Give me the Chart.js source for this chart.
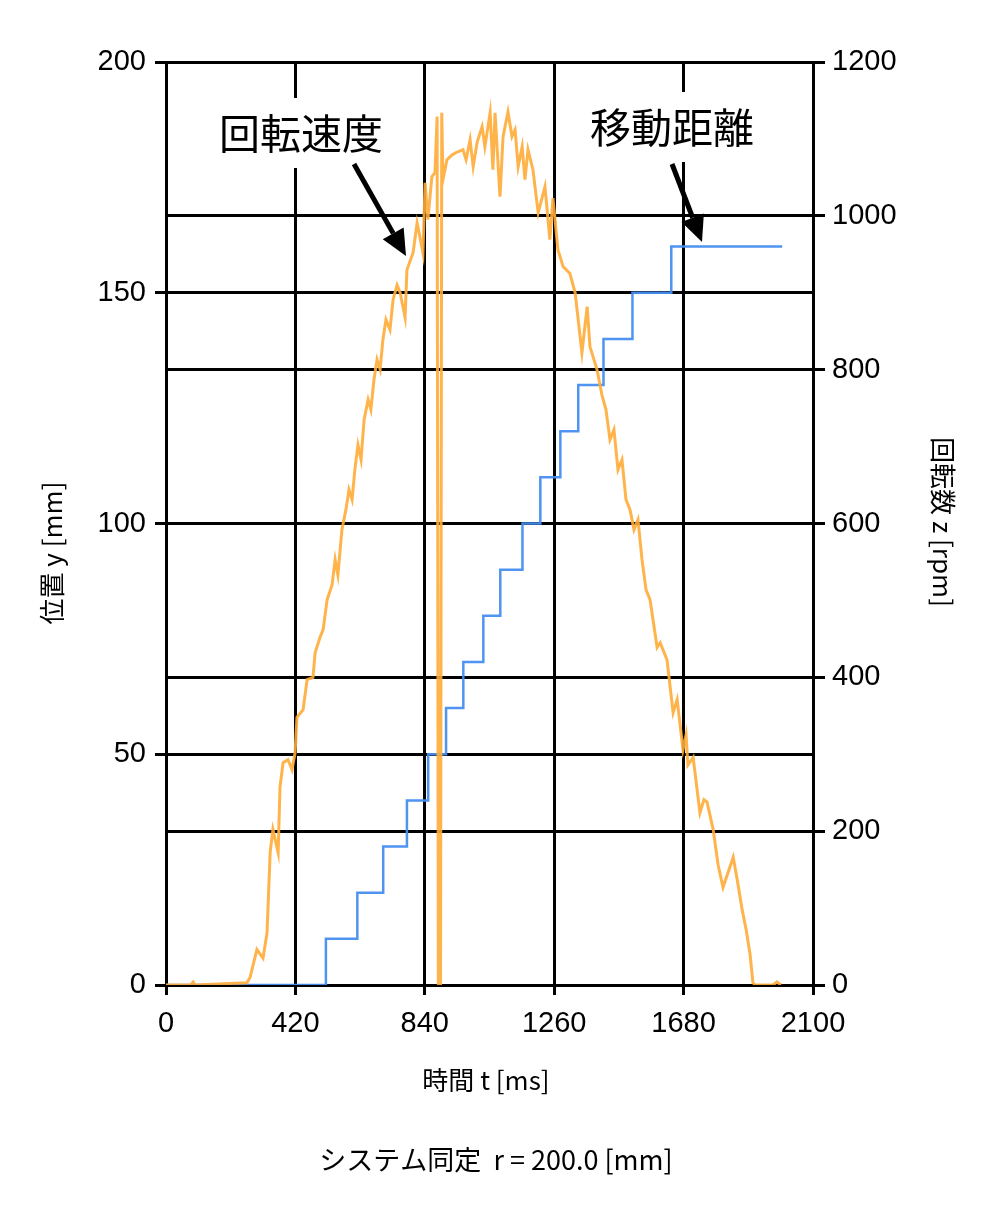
<!DOCTYPE html>
<html>
<head>
<meta charset="utf-8">
<script src="https://cdn.jsdelivr.net/npm/chart.js@4"></script>
<style>
html,body{margin:0;padding:0;background:#fff;}
#wrap{width:1000px;height:1217px;position:relative;}
</style>
</head>
<body>
<div id="wrap"><canvas id="c" width="1000" height="1217"></canvas></div>
<script>
// ---- data ----
const xTicks = [0, 420, 840, 1260, 1680, 2100];
const yLeftTicks = [0, 50, 100, 150, 200];
const yRightTicks = [0, 200, 400, 600, 800, 1000, 1200];

// 回転速度 (rpm, right axis)
const speedT = [0, 80, 88, 95, 263, 273, 295, 315, 328, 338, 347, 364, 370, 380, 396, 409, 419, 425, 445, 458, 477, 484, 500, 510, 523,
  539, 549, 558, 571, 584, 594, 604, 613, 623, 633, 643, 656, 665, 675, 685, 695, 704, 714, 727, 737, 750, 760, 776, 782, 802, 815, 824, 834, 841, 850, 863, 873, 880,
  884, 891, 895, 899, 912, 928, 945, 964, 974, 987, 997, 1010, 1026, 1035, 1052, 1061, 1068, 1084, 1094, 1110, 1123, 1133, 1143, 1156, 1165, 1175, 1191, 1208,
  1230, 1246, 1256, 1272, 1289, 1311, 1328, 1350, 1367, 1376, 1399, 1415, 1428, 1441, 1454, 1467, 1480, 1493, 1506, 1519, 1532, 1545, 1558, 1571,
  1594, 1604, 1626, 1646, 1659, 1678, 1688, 1694, 1711, 1733, 1746, 1756, 1776, 1792, 1808, 1841, 1854, 1870, 1883, 1896, 1905, 1912, 1970, 1983, 1996];
const speedRpm = [0, 0, 4, 0, 3, 10, 46, 35, 68, 172, 202, 172, 257, 289, 293, 280, 302, 348, 358, 397, 400, 432, 452, 462, 501,
  520, 553, 533, 592, 618, 644, 631, 670, 702, 683, 735, 761, 748, 787, 813, 800, 839, 865, 852, 891, 910, 900, 868, 930, 952, 991, 973, 952, 1043, 995, 1051, 1056, 1129,
  0, 0, 1134, 1047, 1073, 1079, 1083, 1086, 1073, 1099, 1064, 1096, 1116, 1090, 1134, 1060, 1134, 1025, 1103, 1135, 1103, 1112, 1064, 1090, 1047, 1086, 1060, 1004,
  1038, 969, 1023, 956, 934, 925, 900, 822, 882, 830, 800, 767, 748, 709, 722, 670, 683, 631, 618, 592, 605, 553, 514, 501,
  439, 445, 423, 354, 371, 306, 325, 286, 296, 224, 241, 238, 202, 156, 127, 166, 137, 98, 72, 39, 3, 0, 0, 4, 0];

// 移動距離 (mm, left axis) — step changes
const distT = [0, 519, 621, 705, 782, 851, 909, 965, 1030, 1085, 1157, 1215, 1280, 1338, 1420, 1514, 1640, 2000];
const distMm = [0, 10, 20, 30, 40, 50, 60, 70, 80, 90, 100, 110, 120, 130, 140, 150, 160, 160];

const speedData = speedT.map((t, i) => ({x: t, y: speedRpm[i]}));
const distData = distT.map((t, i) => ({x: t, y: distMm[i]}));

const TICK_FONT = {family: "'Liberation Sans', Arial, sans-serif", size: 29};

const fixedTicks = (arr) => function(scale) { scale.ticks = arr.map(v => ({value: v})); };

const overlay = {
  id: 'overlay',
  beforeDatasetsDraw(chart) {
    const ctx = chart.ctx;
    ctx.save();
    // white boxes behind annotation text (interrupt grid lines)
    ctx.fillStyle = '#fff';
    ctx.fillRect(208, 98, 184, 70);
    ctx.fillRect(578, 92, 190, 70);
    ctx.fillStyle = '#000';
    ctx.font = "41px 'Noto Sans CJK JP'";
    ctx.textAlign = 'center';
    ctx.textBaseline = 'middle';
    ctx.fillText('回転速度', 301, 133);
    ctx.fillText('移動距離', 672, 127);
    // arrows
    function arrow(x1, y1, x2, y2) {
      const ang = Math.atan2(y2 - y1, x2 - x1);
      const hl = 26, hw = 12;
      const bx = x2 - hl * Math.cos(ang), by = y2 - hl * Math.sin(ang);
      ctx.strokeStyle = '#000';
      ctx.lineWidth = 5;
      ctx.beginPath();
      ctx.moveTo(x1, y1);
      ctx.lineTo(bx, by);
      ctx.stroke();
      ctx.beginPath();
      ctx.moveTo(x2, y2);
      ctx.lineTo(bx + hw * Math.sin(ang), by - hw * Math.cos(ang));
      ctx.lineTo(bx - hw * Math.sin(ang), by + hw * Math.cos(ang));
      ctx.closePath();
      ctx.fill();
    }
    arrow(354, 164, 406, 256);
    arrow(672, 164, 702, 242);
    ctx.restore();
  },
  afterDraw(chart) {
    const ctx = chart.ctx;
    ctx.save();
    ctx.fillStyle = '#000';
    ctx.font = "26px 'Noto Sans CJK JP'";
    ctx.textAlign = 'center';
    ctx.textBaseline = 'middle';
    // x title
    ctx.fillText('時間 t [ms]', 486, 1080);
    // bottom caption
    ctx.font = "27px 'Noto Sans CJK JP'";
    ctx.fillText('システム同定  r = 200.0 [mm]', 496, 1160);
    // left title
    ctx.font = "26px 'Noto Sans CJK JP'";
    ctx.save();
    ctx.translate(52, 553);
    ctx.rotate(-Math.PI / 2);
    ctx.fillText('位置 y [mm]', 0, 0);
    ctx.restore();
    // right title
    ctx.save();
    ctx.translate(943, 522);
    ctx.rotate(Math.PI / 2);
    ctx.fillText('回転数 z [rpm]', 0, 0);
    ctx.restore();
    ctx.restore();
  }
};

new Chart(document.getElementById('c'), {
  type: 'line',
  data: {
    datasets: [
      {
        label: '回転速度',
        data: speedData,
        yAxisID: 'y2',
        borderColor: 'rgba(255,172,55,0.9)',
        borderWidth: 3,
        pointRadius: 0,
        tension: 0
      },
      {
        label: '移動距離',
        data: distData,
        yAxisID: 'y',
        borderColor: 'rgba(70,142,240,0.95)',
        borderWidth: 2.5,
        pointRadius: 0,
        stepped: 'before',
        tension: 0
      }
    ]
  },
  options: {
    responsive: false,
    animation: false,
    devicePixelRatio: 1,
    layout: {padding: {top: 62, left: 0, right: 0, bottom: 0}},
    plugins: {legend: {display: false}, tooltip: {enabled: false}},
    scales: {
      x: {
        type: 'linear', min: 0, max: 2100,
        afterBuildTicks: fixedTicks(xTicks),
        afterFit(s) { s.height = 232; },
        grid: {color: '#000', lineWidth: 3, tickLength: 10},
        border: {display: true, color: '#000', width: 3},
        ticks: {font: TICK_FONT, color: '#000', padding: 12, maxRotation: 0, autoSkip: false,
          callback: v => String(v)}
      },
      y: {
        type: 'linear', position: 'left', min: 0, max: 200,
        afterBuildTicks: fixedTicks(yLeftTicks),
        afterFit(s) { s.width = 166; },
        grid: {color: '#000', lineWidth: 3, tickLength: 11},
        border: {display: true, color: '#000', width: 3},
        ticks: {font: TICK_FONT, color: '#000', padding: 9, callback: v => String(v)}
      },
      y2: {
        type: 'linear', position: 'right', min: 0, max: 1200,
        afterBuildTicks: fixedTicks(yRightTicks),
        afterFit(s) { s.width = 187; },
        grid: {color: '#000', lineWidth: 3, tickLength: 12},
        border: {display: true, color: '#000', width: 3},
        ticks: {font: TICK_FONT, color: '#000', padding: 7, callback: v => String(v)}
      }
    }
  },
  plugins: [overlay]
});
</script>
</body>
</html>
